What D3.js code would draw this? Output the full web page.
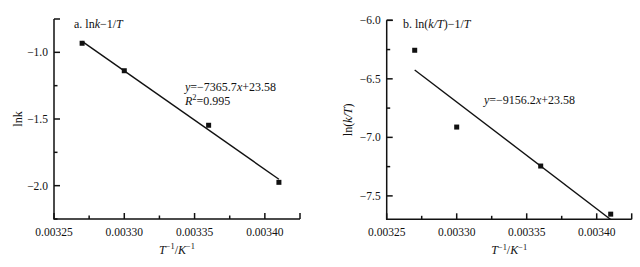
<!DOCTYPE html>
<html>
<head>
<meta charset="utf-8">
<script src="https://cdn.jsdelivr.net/npm/d3@7"></script>
<style>
  html, body { margin: 0; padding: 0; background: #fff; }
  svg { display: block; font-family: "Liberation Serif", "Times New Roman", serif; }
  .tick-label { font-size: 11.5px; fill: #111; }
</style>
</head>
<body>
<div id="chart"></div>
<script>
'use strict';

const W = 640, H = 267;

// inverse temperature, 1/K
const invT = [0.00327, 0.00330, 0.00336, 0.00341];
// panel a: ln k
const lnK = [-0.932, -1.138, -1.547, -1.975];
// panel b: ln(k/T)
const lnKT = [-6.256, -6.912, -7.245, -7.656];

const xTicks = [0.00325, 0.00330, 0.00335, 0.00340];
const xMinor = [0.003275, 0.003325, 0.003375];
const xDomain = [0.00325, 0.003425];

const yTicksA = [-2.0, -1.5, -1.0];
const yMinorA = [-2.25, -1.75, -1.25];
const yDomainA = [-2.25, -0.75];

const yTicksB = [-7.5, -7.0, -6.5, -6.0];
const yMinorB = [-7.25, -6.75, -6.25];
const yDomainB = [-7.7, -6.0];

const svg = d3.select('#chart').append('svg')
  .attr('width', W).attr('height', H);

// append a text made of [string, style] parts
function richText(parent, x, y, parts, size, anchor) {
  const t = parent.append('text')
    .attr('x', x).attr('y', y)
    .attr('font-size', size)
    .attr('text-anchor', anchor || 'start')
    .attr('fill', '#111');
  parts.forEach(([s, st]) => {
    const sp = t.append('tspan').text(s);
    if (st === 'i') sp.attr('font-style', 'italic');
    if (st === 'sup') sp.attr('font-size', size * 0.7).attr('dy', -size * 0.38);
    if (st === 'back') sp.attr('dy', size * 0.38);
    if (st === 'iback') sp.attr('dy', size * 0.38).attr('font-style', 'italic');
  });
  return t;
}

function fitLine(xs, ys) {
  const mx = d3.mean(xs), my = d3.mean(ys);
  const sxy = d3.sum(xs, (v, i) => (v - mx) * (ys[i] - my));
  const sxx = d3.sum(xs, v => (v - mx) * (v - mx));
  const b = sxy / sxx;
  return { slope: b, icpt: my - b * mx };
}

function panel(opt) {
  const x = d3.scaleLinear().domain(xDomain).range(opt.xr);
  const y = d3.scaleLinear().domain(opt.yDomain).range(opt.yr);
  const g = svg.append('g');
  const [x0, x1] = opt.xr, [y0, y1] = opt.yr;

  const axStyle = sel => sel.attr('stroke', '#111').attr('stroke-width', 1.5).attr('fill', 'none');

  // axis lines
  g.append('path').attr('d', `M${x0},${y1}V${y0}H${x1}`).call(axStyle);

  // x ticks (inward)
  const xt = xTicks.map(v => [v, 6]).concat(xMinor.map(v => [v, 3.5]), [[xDomain[1], 6]]);
  xt.forEach(([v, len]) => {
    g.append('line').attr('x1', x(v)).attr('x2', x(v)).attr('y1', y0).attr('y2', y0 - len).call(axStyle);
  });
  xTicks.forEach(v => {
    g.append('text').attr('class', 'tick-label')
      .attr('x', x(v)).attr('y', y0 + 17)
      .attr('text-anchor', 'middle')
      .text(d3.format('.5f')(v));
  });

  // y ticks (inward)
  const yt = opt.yTicks.map(v => [v, 6]).concat(opt.yMinor.map(v => [v, 3.5]), [[opt.yDomain[1], 6]]);
  yt.forEach(([v, len]) => {
    g.append('line').attr('x1', x0).attr('x2', x0 + len).attr('y1', y(v)).attr('y2', y(v)).call(axStyle);
  });
  opt.yTicks.forEach(v => {
    g.append('text').attr('class', 'tick-label')
      .attr('x', x0 - 6).attr('y', y(v) + 4)
      .attr('text-anchor', 'end')
      .text(d3.format('.1f')(v).replace('-', '\u2212'));
  });

  // fit line over data range, clipped to plot area
  const f = fitLine(invT, opt.ys);
  const clipId = 'clip' + opt.id;
  svg.append('clipPath').attr('id', clipId).append('rect')
    .attr('x', x0).attr('y', y1).attr('width', x1 - x0).attr('height', y0 - y1);
  const xe = d3.extent(invT);
  g.append('line')
    .attr('clip-path', `url(#${clipId})`)
    .attr('x1', x(xe[0])).attr('y1', y(f.slope * xe[0] + f.icpt))
    .attr('x2', x(xe[1])).attr('y2', y(f.slope * xe[1] + f.icpt))
    .attr('stroke', '#111').attr('stroke-width', 1.4);

  // markers
  const s = 5;
  invT.forEach((v, i) => {
    g.append('rect')
      .attr('x', x(v) - s / 2).attr('y', y(opt.ys[i]) - s / 2)
      .attr('width', s).attr('height', s)
      .attr('fill', '#111');
  });

  // title
  richText(g, opt.title.x, opt.title.y, opt.title.parts, 12);

  // equations
  opt.notes.forEach(n => richText(g, n.x, n.y, n.parts, 12));

  // x label
  richText(g, (x0 + x1) / 2, y0 + 35, [['T', 'i'], ['\u22121', 'sup'], ['/', 'back'], ['K', 'i'], ['\u22121', 'sup']], 12, 'middle');

  // y label
  const yl = g.append('g').attr('transform', `translate(${opt.ylab.x},${(y0 + y1) / 2}) rotate(-90)`);
  richText(yl, 0, 0, opt.ylab.parts, 12, 'middle');
}

panel({
  id: 'a',
  xr: [54, 300], yr: [219, 19],
  yDomain: yDomainA, yTicks: yTicksA, yMinor: yMinorA,
  ys: lnK,
  title: { x: 74, y: 28, parts: [['a. ln', ''], ['k', 'i'], ['\u22121/', ''], ['T', 'i']] },
  notes: [
    { x: 185, y: 91, parts: [['y', 'i'], ['=\u22127365.7', ''], ['x', 'i'], ['+23.58', '']] },
    { x: 185, y: 105, parts: [['R', 'i'], ['2', 'sup'], ['=0.995', 'back']] }
  ],
  ylab: { x: 22, parts: [['lnk', '']] }
});

panel({
  id: 'b',
  xr: [386.7, 631.7], yr: [219.3, 20.3],
  yDomain: yDomainB, yTicks: yTicksB, yMinor: yMinorB,
  ys: lnKT,
  title: { x: 403, y: 28, parts: [['b. ln(', ''], ['k/T', 'i'], [')\u22121/', ''], ['T', 'i']] },
  notes: [
    { x: 484, y: 104, parts: [['y', 'i'], ['=\u22129156.2', ''], ['x', 'i'], ['+23.58', '']] }
  ],
  ylab: { x: 352, parts: [['ln(', ''], ['k/T', 'i'], [')', '']] }
});
</script>
</body>
</html>
